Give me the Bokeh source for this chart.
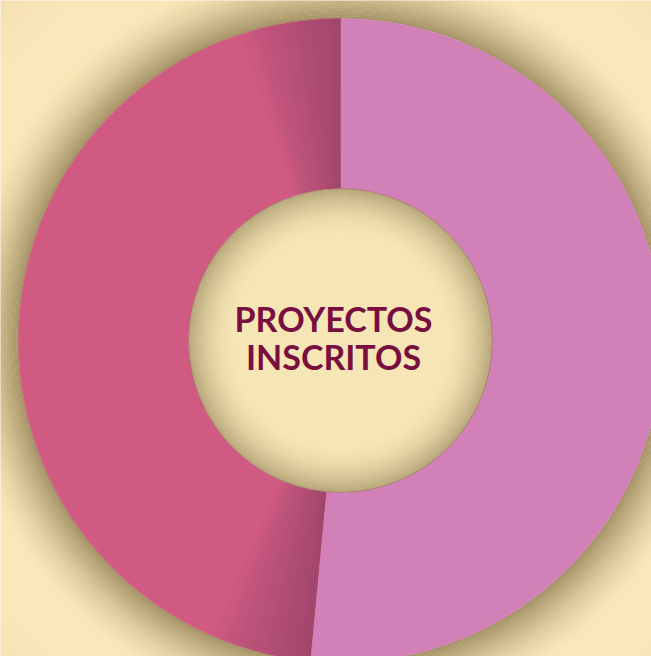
import numpy as np
from bokeh.plotting import figure
from bokeh.models import Range1d
from bokeh.core.properties import value
from bokeh.embed import file_html
from bokeh.resources import INLINE

# Data
categories = ["Grupo A", "Grupo B"]
shares = [51.5, 48.5]
slice_colors = ["#D280B8", "#D05A82"]
center_lines = ["PROYECTOS", "INSCRITOS"]

W, H = 651, 656
p = figure(width=W, height=H, output_backend="svg", toolbar_location=None,
           x_range=Range1d(0, W), y_range=Range1d(-H, 0),
           min_border=0, background_fill_color="#FBE8BA", border_fill_color="#FBE8BA")
p.axis.visible = False
p.grid.visible = False
p.outline_line_color = None

cx, cy = 340, -340
R_out, R_in = 322, 152

# corner vignette (subtle)
for i in range(30):
    r0 = 420 + i * 10
    p.annulus(x=cx, y=cy, inner_radius=r0, outer_radius=r0 + 10,
              fill_color="#7a6a40", fill_alpha=min(0.01 * i, 0.25), line_color=None)

# outer ring shadow
n = 28
for i in range(n):
    r0 = R_out + i * 2.2
    a = 0.6 * (1 - i / n) ** 1.7
    p.annulus(x=cx, y=cy, inner_radius=r0, outer_radius=r0 + 2.2,
              fill_color="#6b5a30", fill_alpha=a, line_color=None)

# slices
fr = np.array(shares) / sum(shares)
start = np.pi / 2
angles = []
for f in fr:
    end = start - 2 * np.pi * f
    angles.append((start, end))
    start = end
for (s, e), c in zip(angles, slice_colors):
    p.annular_wedge(x=cx, y=cy, inner_radius=R_in, outer_radius=R_out,
                    start_angle=s, end_angle=e, direction="clock",
                    fill_color=c, line_color=c, line_width=0.5)

# shading on second slice near both edges
s2, e2 = angles[1]
m = 20
span = np.deg2rad(18)
for i in range(m):
    a = 0.016
    p.annular_wedge(x=cx, y=cy, inner_radius=R_in, outer_radius=R_out,
                    start_angle=s2, end_angle=s2 - span * (i + 1) / m, direction="clock",
                    fill_color="#4a2a3a", fill_alpha=a, line_color=None)
    p.annular_wedge(x=cx, y=cy, inner_radius=R_in, outer_radius=R_out,
                    start_angle=e2 + span * (i + 1) / m, end_angle=e2, direction="clock",
                    fill_color="#4a2a3a", fill_alpha=a, line_color=None)

# hole
p.circle(x=cx, y=cy, radius=R_in, fill_color="#F6E6B6", line_color="#B06080", line_width=0.6)
k = 24
for i in range(k):
    r1 = R_in - i * 2
    a = 0.45 * (1 - i / k) ** 2
    p.annulus(x=cx, y=cy, inner_radius=r1 - 2, outer_radius=r1,
              fill_color="#6b5a30", fill_alpha=a, line_color=None)

# center text
p.text(x=[cx - 7, cx - 7], y=[-318, -356], text=center_lines,
       text_font=value("Lato"), text_font_style="bold", text_font_size="34px",
       text_color="#780F40", text_align="center", text_baseline="middle")

open("out.html", "w").write(file_html(p, INLINE))
